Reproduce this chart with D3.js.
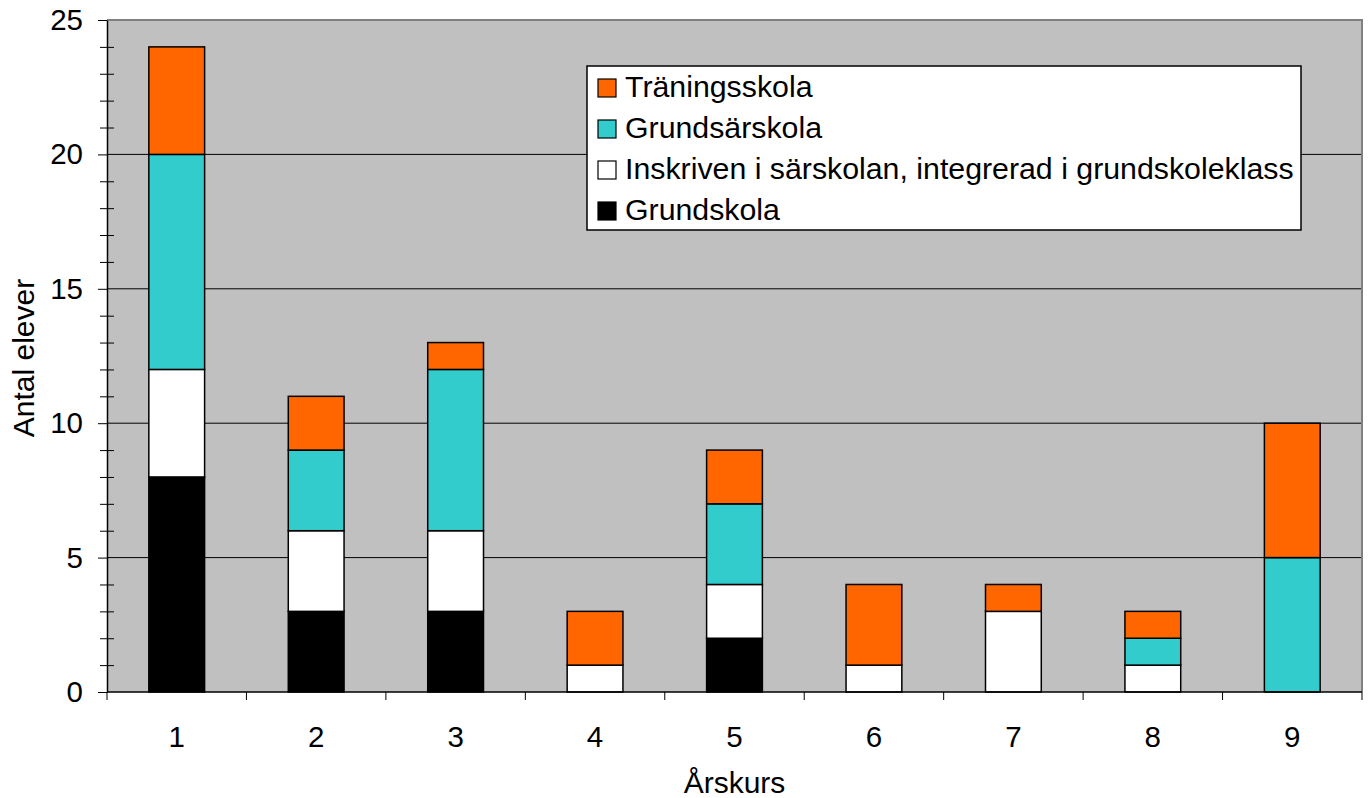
<!DOCTYPE html>
<html>
<head>
<meta charset="utf-8">
<script src="https://cdnjs.cloudflare.com/ajax/libs/d3/7.8.5/d3.min.js"></script>
<style>
  body { margin: 0; background: #fff; }
  svg { display: block; font-family: "Liberation Sans", Arial, sans-serif; }
</style>
</head>
<body>
<div id="chart"></div>
<script>
// Data
var grades = ["1", "2", "3", "4", "5", "6", "7", "8", "9"];
var seriesNames = ["Grundskola", "Inskriven i särskolan, integrerad i grundskoleklass", "Grundsärskola", "Träningsskola"];
var seriesColors = ["#000000", "#ffffff", "#33cccc", "#ff6600"];
var grundskola = [8, 3, 3, 0, 2, 0, 0, 0, 0];
var inskriven  = [4, 3, 3, 1, 2, 1, 3, 1, 0];
var grundsar   = [8, 3, 6, 0, 3, 0, 0, 1, 5];
var traning    = [4, 2, 1, 2, 2, 3, 1, 1, 5];
var yTicks = [0, 5, 10, 15, 20, 25];

var W = 1371, H = 798;
var margin = {top: 20, right: 9, bottom: 106, left: 107};
var width = W - margin.left - margin.right,
    height = H - margin.top - margin.bottom;

var svg = d3.select("#chart").append("svg")
    .attr("width", W)
    .attr("height", H);

var g = svg.append("g")
    .attr("transform", "translate(" + margin.left + "," + margin.top + ")");

var x = d3.scaleBand().domain(grades).range([0, width]).padding(0);
var y = d3.scaleLinear().domain([0, 25]).range([height, 0]);

// Plot background
g.append("rect")
    .attr("width", width)
    .attr("height", height)
    .attr("fill", "#c0c0c0");

// Gridlines
g.selectAll(".grid")
    .data(yTicks.filter(function(d) { return d > 0 && d < 25; }))
    .enter().append("line")
    .attr("x1", 0).attr("x2", width)
    .attr("y1", function(d) { return y(d); })
    .attr("y2", function(d) { return y(d); })
    .attr("stroke", "#000")
    .attr("stroke-width", 1);

// Top and right border
g.append("path")
    .attr("d", "M0," + y(25) + "H" + width + "V" + height)
    .attr("fill", "none")
    .attr("stroke", "#808080")
    .attr("stroke-width", 2);

// Stack the series
var table = grades.map(function(c, i) {
    return {grade: c, s0: grundskola[i], s1: inskriven[i], s2: grundsar[i], s3: traning[i]};
});
var stack = d3.stack().keys(["s0", "s1", "s2", "s3"]);
var layers = stack(table);

var barW = x.bandwidth() * 0.4;

g.selectAll(".layer")
    .data(layers)
    .enter().append("g")
    .attr("fill", function(d, i) { return seriesColors[i]; })
    .selectAll("rect")
    .data(function(d) { return d.filter(function(p) { return p[1] - p[0] > 0; }); })
    .enter().append("rect")
    .attr("x", function(d) { return x(d.data.grade) + (x.bandwidth() - barW) / 2; })
    .attr("width", barW)
    .attr("y", function(d) { return y(d[1]); })
    .attr("height", function(d) { return y(d[0]) - y(d[1]); })
    .attr("stroke", "#000")
    .attr("stroke-width", 1.5);

// Y axis: minor ticks crossing the axis, major ticks outside
var minor = g.append("g")
    .call(d3.axisLeft(y).tickValues(d3.range(0, 26).filter(function(d) { return d % 5 !== 0; })).tickSize(0).tickFormat(""));
minor.select(".domain").remove();
minor.selectAll(".tick line").attr("x1", -7).attr("x2", 7).attr("stroke", "#000");

var yAxis = g.append("g")
    .call(d3.axisLeft(y).tickValues(yTicks).tickSize(9).tickSizeOuter(0).tickPadding(15));
yAxis.select(".domain").attr("stroke", "#000").attr("stroke-width", 1.5);
yAxis.selectAll(".tick line").attr("stroke", "#000");
yAxis.selectAll(".tick text")
    .attr("fill", "#000")
    .style("font-size", "29.5px")
    .style("font-family", "Liberation Sans, Arial, sans-serif");

// X axis: ticks at category boundaries
var xb = g.append("g").attr("transform", "translate(0," + height + ")");
xb.append("line").attr("x1", 0).attr("x2", width).attr("stroke", "#000").attr("stroke-width", 1.5);
xb.selectAll(".xt")
    .data(d3.range(0, grades.length + 1))
    .enter().append("line")
    .attr("x1", function(i) { return i * x.step(); })
    .attr("x2", function(i) { return i * x.step(); })
    .attr("y1", 0).attr("y2", 8)
    .attr("stroke", "#000");
xb.selectAll(".xl")
    .data(grades)
    .enter().append("text")
    .attr("x", function(d) { return x(d) + x.bandwidth() / 2; })
    .attr("y", 55)
    .attr("text-anchor", "middle")
    .style("font-size", "29.5px")
    .text(function(d) { return d; });

// Axis titles
svg.append("text")
    .attr("transform", "translate(" + (margin.left + width / 2) + ",793)")
    .attr("text-anchor", "middle")
    .style("font-size", "30px")
    .text("Årskurs");

svg.append("text")
    .attr("transform", "translate(34," + (margin.top + height / 2 + 2) + ") rotate(-90)")
    .attr("text-anchor", "middle")
    .style("font-size", "30px")
    .text("Antal elever");

// Legend
var legend = svg.append("g").attr("transform", "translate(587,66)");
legend.append("rect")
    .attr("width", 714).attr("height", 164)
    .attr("fill", "#fff").attr("stroke", "#000").attr("stroke-width", 1.5);

var order = [3, 2, 1, 0];
var items = legend.selectAll(".item")
    .data(order)
    .enter().append("g")
    .attr("transform", function(d, i) { return "translate(11," + (31 + i * 41) + ")"; });
items.append("rect")
    .attr("x", 0).attr("y", -18)
    .attr("width", 18).attr("height", 18)
    .attr("fill", function(d) { return seriesColors[d]; })
    .attr("stroke", "#000").attr("stroke-width", 1.2);
items.append("text")
    .attr("x", 27).attr("y", 0)
    .style("font-size", "30.3px")
    .text(function(d) { return seriesNames[d]; });
</script>
</body>
</html>
